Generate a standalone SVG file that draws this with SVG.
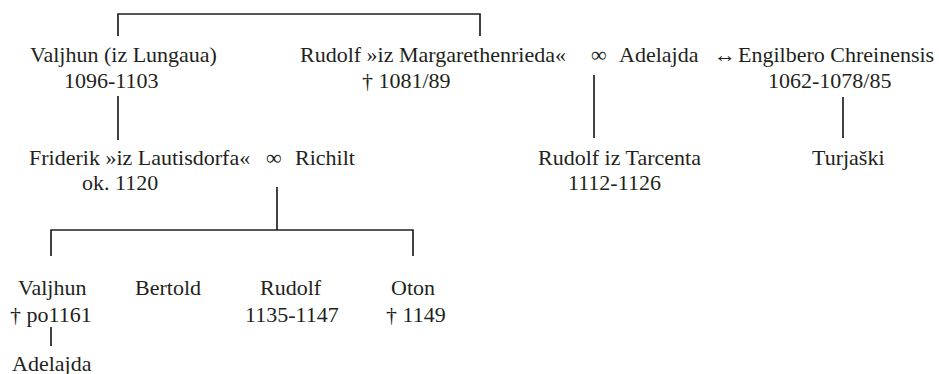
<svg xmlns="http://www.w3.org/2000/svg" width="939" height="374" viewBox="0 0 939 374">
<style>
text{font-family:"Liberation Serif","Times New Roman",serif;font-size:22px;fill:#231f20}
.c{stroke:#231f20;stroke-width:1.7;fill:none}
</style>
<rect width="939" height="374" fill="#fff"/>
<g id="connectors">
<path class="c" d="M118,36V14H480V36"/>
<path class="c" d="M118,96V140"/>
<path class="c" d="M277,187V230"/>
<path class="c" d="M51,256V230H413V256"/>
<path class="c" d="M594,75V138"/>
<path class="c" d="M843,97V138"/>
<path class="c" d="M51,327V346"/>
</g>
<g id="valjhun1"><text x="30" y="62">Valjhun (iz Lungaua)</text><text x="64" y="88">1096-1103</text></g>
<g id="rudolf1"><text x="300" y="62">Rudolf »iz Margarethenrieda«</text><text x="362" y="88">† 1081/89</text></g>
<g id="marriage1"><text x="591" y="62">∞</text></g>
<g id="adelajda1"><text x="619" y="62">Adelajda</text></g>
<g id="link1"><text x="714" y="62">↔</text></g>
<g id="engilbero"><text x="738" y="62">Engilbero Chreinensis</text><text x="768" y="88">1062-1078/85</text></g>
<g id="friderik"><text x="29" y="165">Friderik »iz Lautisdorfa«</text><text x="82" y="190">ok. 1120</text></g>
<g id="marriage2"><text x="266" y="165">∞</text></g>
<g id="richilt"><text x="295" y="165">Richilt</text></g>
<g id="rudolf2"><text x="538" y="165">Rudolf iz Tarcenta</text><text x="568" y="190">1112-1126</text></g>
<g id="turjaski"><text x="812" y="165">Turjaški</text></g>
<g id="valjhun2"><text x="18" y="295">Valjhun</text><text x="10" y="322">† po1161</text></g>
<g id="bertold"><text x="135" y="295">Bertold</text></g>
<g id="rudolf3"><text x="260" y="295">Rudolf</text><text x="245" y="322">1135-1147</text></g>
<g id="oton"><text x="391" y="295">Oton</text><text x="386" y="322">† 1149</text></g>
<g id="adelajda2"><text x="12" y="371">Adelajda</text></g>
</svg>
